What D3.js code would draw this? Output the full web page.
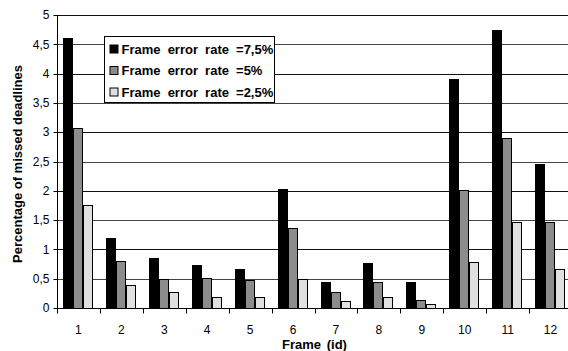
<!DOCTYPE html>
<html>
<head>
<meta charset="utf-8">
<script src="https://cdn.jsdelivr.net/npm/d3@7"></script>
<style>
  body { margin: 0; background: #fff; }
  svg { display: block; }
</style>
</head>
<body>
<div id="chart"></div>
<script>
var frames = ["1", "2", "3", "4", "5", "6", "7", "8", "9", "10", "11", "12"];
var seriesNames = ["Frame error rate =7,5%", "Frame error rate =5%", "Frame error rate =2,5%"];
var fer75 = [4.61, 1.20, 0.86, 0.73, 0.67, 2.03, 0.44, 0.77, 0.45, 3.90, 4.75, 2.46];
var fer5  = [3.08, 0.81, 0.49, 0.51, 0.48, 1.36, 0.28, 0.44, 0.14, 2.02, 2.90, 1.47];
var fer25 = [1.75, 0.39, 0.28, 0.19, 0.18, 0.49, 0.12, 0.19, 0.07, 0.78, 1.47, 0.67];
var yTicks = [0, 0.5, 1, 1.5, 2, 2.5, 3, 3.5, 4, 4.5, 5];
var colors = ["#000000", "#8c8c8c", "#e0e0e0"];

var outerWidth = 568, outerHeight = 351;
var margin = {left: 57, top: 15, right: -4, bottom: 43};

var svg = d3.select("#chart").append("svg")
    .attr("width", outerWidth)
    .attr("height", outerHeight);

var Xscale = d3.scaleBand()
    .domain(frames)
    .range([margin.left, outerWidth - margin.right])
    .padding(0);

var Sscale = d3.scaleBand()
    .domain(seriesNames)
    .range([6, 36]);

var Yscale = d3.scaleLinear()
    .domain([0, 5])
    .range([outerHeight - margin.bottom, margin.top]);

var fmt = function(d){ return String(d).replace(".", ","); };

// gridlines
svg.append("g").selectAll("line")
    .data(yTicks.slice(1))
    .enter().append("line")
    .attr("x1", margin.left)
    .attr("x2", outerWidth)
    .attr("y1", function(d){ return Math.round(Yscale(d)) + 0.5; })
    .attr("y2", function(d){ return Math.round(Yscale(d)) + 0.5; })
    .style("stroke", function(d, i){ return i % 2 ? "#111" : "#444"; })
    .style("stroke-width", 1);

// bars
var allSeries = [fer75, fer5, fer25];
allSeries.forEach(function(vals, s){
    svg.append("g").selectAll("rect")
        .data(vals)
        .enter().append("rect")
        .attr("x", function(d, i){ return Math.round(Xscale(frames[i]) + Sscale(seriesNames[s])) + 0.5; })
        .attr("y", function(d){ return Math.round(Yscale(d)) + 0.5; })
        .attr("width", Math.round(Sscale.bandwidth()) - 1)
        .attr("height", function(d){ return Math.round(Yscale(0)) - Math.round(Yscale(d)); })
        .style("fill", colors[s])
        .style("stroke", "#000")
        .style("stroke-width", 1);
});

// x axis
var axisX = svg.append("g")
    .attr("transform", "translate(0," + (Math.round(Yscale(0)) + 0.5) + ")");
axisX.append("line")
    .attr("x1", margin.left).attr("x2", outerWidth)
    .style("stroke", "#000");
axisX.selectAll(".tk")
    .data(frames)
    .enter().append("line")
    .attr("x1", function(d){ return Math.round(Xscale(d)) + 0.5; })
    .attr("x2", function(d){ return Math.round(Xscale(d)) + 0.5; })
    .attr("y1", 0).attr("y2", 5)
    .style("stroke", "#000");
axisX.selectAll("text")
    .data(frames)
    .enter().append("text")
    .attr("x", function(d){ return Xscale(d) + Xscale.bandwidth() / 2; })
    .attr("y", 25)
    .style("text-anchor", "middle")
    .style("font-family", "Liberation Sans, Arial, sans-serif")
    .style("font-size", "12px")
    .style("fill", "#000")
    .text(function(d){ return d; });

// y axis
var axisY = svg.append("g")
    .attr("transform", "translate(" + (margin.left + 0.5) + ",0)");
axisY.append("line")
    .attr("y1", Yscale(5)).attr("y2", Yscale(0) + 1)
    .style("stroke", "#000");
axisY.selectAll(".tk")
    .data(yTicks)
    .enter().append("line")
    .attr("x1", -4).attr("x2", 0)
    .attr("y1", function(d){ return Math.round(Yscale(d)) + 0.5; })
    .attr("y2", function(d){ return Math.round(Yscale(d)) + 0.5; })
    .style("stroke", "#000");
axisY.selectAll("text")
    .data(yTicks)
    .enter().append("text")
    .attr("x", -8)
    .attr("y", function(d){ return Yscale(d); })
    .attr("dy", "0.35em")
    .style("text-anchor", "end")
    .style("font-family", "Liberation Sans, Arial, sans-serif")
    .style("font-size", "12px")
    .style("fill", "#000")
    .text(fmt);

// axis labels
svg.append("text")
    .attr("x", (margin.left + outerWidth - margin.right) / 2)
    .attr("y", 349)
    .style("text-anchor", "middle")
    .style("font-family", "Liberation Sans, Arial, sans-serif")
    .style("font-weight", "bold")
    .style("font-size", "13px")
    .style("word-spacing", "2px")
    .text("Frame (id)");

svg.append("text")
    .attr("transform", "translate(22," + 164 + ") rotate(-90)")
    .style("text-anchor", "middle")
    .style("font-family", "Liberation Sans, Arial, sans-serif")
    .style("font-weight", "bold")
    .style("font-size", "13px")
    .text("Percentage of missed deadlines");

// legend
var legend = svg.append("g").attr("transform", "translate(104.5,36.5)");
legend.append("rect")
    .attr("width", 170).attr("height", 66)
    .style("fill", "#fff")
    .style("stroke", "#000");
var items = legend.selectAll(".item")
    .data(seriesNames)
    .enter().append("g")
    .attr("transform", function(d, i){ return "translate(0," + (12.5 + i * 21.5) + ")"; });
items.append("rect")
    .attr("x", 5.5).attr("y", -4)
    .attr("width", 8).attr("height", 8)
    .style("fill", function(d, i){ return colors[i]; })
    .style("stroke", "#000");
items.append("text")
    .attr("x", 17)
    .attr("dy", "0.36em")
    .style("font-family", "Liberation Sans, Arial, sans-serif")
    .style("font-weight", "bold")
    .style("font-size", "13px")
    .style("word-spacing", "3.5px")
    .text(function(d){ return d; });
</script>
</body>
</html>
